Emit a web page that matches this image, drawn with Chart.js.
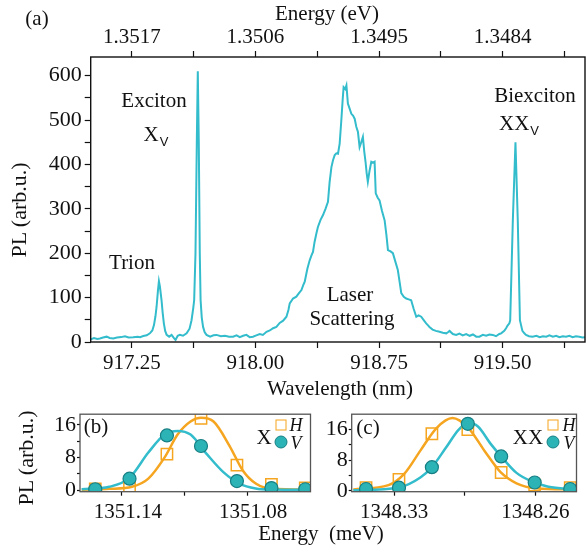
<!DOCTYPE html>
<html lang="en">
<head>
<meta charset="UTF-8">
<title>PL spectrum</title>
<script src="https://cdn.jsdelivr.net/npm/chart.js"></script>
<style>
  body { margin: 0; background: #fff; }
  #wrap { position: relative; width: 586px; height: 552px; overflow: hidden;
          font-family: "Liberation Serif", "Times New Roman", serif; color: #111; }
  canvas { position: absolute; }
  .lbl { position: absolute; transform: translate(-50%, -50%); line-height: 1;
         white-space: nowrap; font-size: 21px; }
  .rot { transform: translate(-50%, -50%) rotate(-90deg); font-size: 22px; }
  .sub { font-family: "Liberation Sans", Arial, sans-serif; font-size: 13px; position: relative; top: 5px; margin-left: 1px; }
  .it { font-style: italic; font-size: 18px; }
  .sq { position: absolute; width: 9px; height: 9px; border: 1.5px solid #f5a51f;
        transform: translate(-50%, -50%); }
  .dot { position: absolute; width: 11px; height: 11px; border-radius: 50%; background: #2bb3b5;
         border: 1.2px solid #177f84; transform: translate(-50%, -50%); }
</style>
</head>
<body>
<div id="wrap">
  <canvas id="mainChart" width="586" height="400" style="left:0;top:0"></canvas>
  <canvas id="xChart" width="320" height="152" style="left:0;top:400px"></canvas>
  <canvas id="xxChart" width="286" height="152" style="left:300px;top:400px"></canvas>

  <!-- panel (a) text -->
  <div class="lbl" style="left:37px;top:18px">(a)</div>
  <div class="lbl" style="left:327px;top:13px">Energy (eV)</div>
  <div class="lbl" style="left:340px;top:388px">Wavelength (nm)</div>
  <div class="lbl rot" style="left:19px;top:210px">PL (arb.u.)</div>
  <div class="lbl" style="left:154px;top:100px">Exciton</div>
  <div class="lbl" style="left:156px;top:134px">X<span class="sub">V</span></div>
  <div class="lbl" style="left:132px;top:262px">Trion</div>
  <div class="lbl" style="left:535px;top:95px">Biexciton</div>
  <div class="lbl" style="left:519px;top:123px">XX<span class="sub">V</span></div>
  <div class="lbl" style="left:350px;top:294px">Laser</div>
  <div class="lbl" style="left:352px;top:318px">Scattering</div>

  <!-- panels (b), (c) text -->
  <div class="lbl" style="left:96px;top:426px">(b)</div>
  <div class="lbl" style="left:368px;top:427px">(c)</div>
  <div class="lbl" style="left:264px;top:437px">X</div>
  <div class="sq" style="left:281px;top:425px"></div>
  <div class="dot" style="left:281px;top:442px"></div>
  <div class="lbl it" style="left:296px;top:425px">H</div>
  <div class="lbl it" style="left:296px;top:443px">V</div>
  <div class="lbl" style="left:528px;top:437px">XX</div>
  <div class="sq" style="left:553px;top:425px"></div>
  <div class="dot" style="left:553px;top:442px"></div>
  <div class="lbl it" style="left:569px;top:425px">H</div>
  <div class="lbl it" style="left:569px;top:443px">V</div>
  <div class="lbl rot" style="left:26px;top:458px">PL (arb.u.)</div>
  <div class="lbl" style="left:321px;top:533px">Energy&nbsp;&nbsp;(meV)</div>
</div>

<script>
// PL spectrum: wavelength (nm) and intensity (arb. u.)
const wavelength = [
  917.000, 917.020, 917.040, 917.056, 917.075, 917.097, 917.115, 917.137, 917.160, 917.185,
  917.208, 917.230, 917.258, 917.285, 917.300, 917.319, 917.340, 917.359, 917.374, 917.384,
  917.393, 917.400, 917.408, 917.414, 917.420, 917.430, 917.437, 917.444, 917.452, 917.461,
  917.476, 917.491, 917.503, 917.515, 917.528, 917.541, 917.560, 917.582, 917.600, 917.612,
  917.622, 917.628, 917.636, 917.644, 917.650, 917.656, 917.662, 917.667, 917.674, 917.682,
  917.692, 917.703, 917.725, 917.745, 917.764, 917.790, 917.815, 917.840, 917.864, 917.885,
  917.905, 917.925, 917.945, 917.965, 917.985, 918.005, 918.026, 918.045, 918.067, 918.087,
  918.107, 918.127, 918.147, 918.168, 918.188, 918.200, 918.208, 918.228, 918.248, 918.264,
  918.279, 918.290, 918.299, 918.315, 918.329, 918.340, 918.349, 918.359, 918.370, 918.379,
  918.395, 918.410, 918.425, 918.440, 918.450, 918.461, 918.471, 918.481, 918.491, 918.501,
  918.511, 918.521, 918.530, 918.535, 918.545, 918.552, 918.561, 918.572, 918.582, 918.592,
  918.602, 918.612, 918.622, 918.632, 918.642, 918.652, 918.660, 918.668, 918.675, 918.682,
  918.692, 918.703, 918.713, 918.723, 918.730, 918.742, 918.753, 918.768, 918.784, 918.795,
  918.804, 918.820, 918.834, 918.850, 918.864, 918.875, 918.885, 918.900, 918.915, 918.930,
  918.945, 918.960, 918.976, 918.990, 919.006, 919.020, 919.036, 919.046, 919.056, 919.075,
  919.095, 919.117, 919.137, 919.158, 919.168, 919.178, 919.198, 919.218, 919.238, 919.258,
  919.279, 919.300, 919.320, 919.340, 919.359, 919.380, 919.400, 919.420, 919.440, 919.460,
  919.480, 919.491, 919.510, 919.521, 919.530, 919.541, 919.546, 919.562, 919.578, 919.592,
  919.605, 919.620, 919.632, 919.642, 919.660, 919.682, 919.705, 919.725, 919.745, 919.765,
  919.784, 919.805, 919.825, 919.845, 919.865, 919.885, 919.905, 919.925, 919.945, 919.965,
  919.985, 920.000
];
const intensity = [
  6, 9, 7, 8, 10, 12, 9, 8, 10, 11,
  13, 10, 10.5, 12, 11, 13.5, 15, 19.5, 26, 38,
  58, 80, 115, 137, 125, 94, 65, 42, 25, 16,
  12, 16, 10, 4.5, 14, 16, 14, 19.5, 30, 49,
  75, 94, 200, 450, 610, 450, 200, 94, 55, 34,
  22, 16, 12, 15, 16, 13, 14, 12, 12, 15,
  11, 14, 16, 11, 12, 15, 18, 16, 23, 26,
  31, 34, 43, 48, 57, 72, 87, 98, 102, 110,
  117, 128, 136, 165, 184, 195, 203, 226, 245, 259,
  275, 286, 300, 316, 360, 394, 410, 421, 425, 424,
  447, 499, 550, 574, 570, 578, 537, 525, 514, 510,
  503, 485, 473, 439, 450, 462, 430, 406, 380, 361,
  385, 406, 404, 406, 335, 325, 319, 295, 274, 240,
  207, 204, 200, 180, 162, 135, 110, 102, 98, 96,
  94, 75, 57, 60, 57, 50, 42, 38, 34, 28,
  25, 23, 21, 19.5, 22, 25, 18, 16, 19, 15,
  18, 14, 17, 12, 12, 16, 14, 17, 16, 13,
  18, 19.5, 25, 31, 37, 42, 49, 274, 450, 274,
  49, 25, 19.5, 16, 13, 12, 14, 11, 13, 12,
  15, 12, 14, 11, 13, 12, 14, 11, 13, 12,
  10, 11
];

// axis ticks of panel (a); the top axis shares positions with the bottom one
const wlTicks = [917.25, 917.625, 918.0, 918.375, 918.75, 919.125, 919.5, 919.875];
const wlLabels = ['917.25', '', '918.00', '', '918.75', '', '919.50', ''];
const evLabels = ['1.3517', '', '1.3506', '', '1.3495', '', '1.3484', ''];
const plTicks = [0, 50, 100, 150, 200, 250, 300, 350, 400, 450, 500, 550, 600];
const plLabels = ['0', '', '100', '', '200', '', '300', '', '400', '', '500', '', '600'];

// panel (b): exciton, H and V polarisation
const xEnergy = [1351.1527, 1351.1363, 1351.1184, 1351.1021, 1351.0849, 1351.0684, 1351.0522];
const xH = [0.3, 1.0, 8.8, 17.6, 6.1, 1.4, 0.5];
const xV = [0.2, 2.8, 13.4, 10.8, 2.2, 0.5, 0.2];
const xFitE_H = [1351.1592, 1351.1460, 1351.1351, 1351.1273, 1351.1195, 1351.1133, 1351.1071,
                 1351.1021, 1351.0961, 1351.0884, 1351.0821, 1351.0759, 1351.0681, 1351.0497];
const xFitH = [0.1, 0.3, 0.8, 2.8, 8.0, 13.6, 16.8, 17.7, 16.8, 10.8, 4.8, 1.6, 0.3, 0.1];
const xFitE_V = [1351.1592, 1351.1460, 1351.1363, 1351.1273, 1351.1195, 1351.1133, 1351.1071,
                 1351.0993, 1351.0914, 1351.0837, 1351.0759, 1351.0681, 1351.0497];
const xFitV = [0.2, 0.8, 3.0, 9.2, 13.6, 14.5, 13.6, 8.8, 4.4, 1.6, 0.4, 0.15, 0.1];
const bTicks = [1351.14, 1351.11, 1351.08];
const bLabels = ['1351.14', '', '1351.08'];

// panel (c): biexciton, H and V polarisation
const xxEnergy = [1348.3439, 1348.3276, 1348.3113, 1348.2935, 1348.2770, 1348.2604, 1348.2428];
const xxH = [0.85, 3.0, 14.9, 16.0, 4.8, 1.5, 0.85];
const xxV = [0.5, 0.85, 6.2, 17.5, 9.0, 2.2, 0.5];
const xxFitE_H = [1348.3502, 1348.3328, 1348.3249, 1348.3170, 1348.3090, 1348.3011, 1348.2932,
                  1348.2853, 1348.2773, 1348.2694, 1348.2599, 1348.2409];
const xxFitH = [0.4, 1.5, 4.5, 10.5, 16.4, 19.0, 16.4, 10.5, 4.9, 2.0, 0.7, 0.4];
const xxFitE_V = [1348.3502, 1348.3280, 1348.3170, 1348.3113, 1348.3043, 1348.2980, 1348.2932,
                  1348.2885, 1348.2821, 1348.2770, 1348.2694, 1348.2615, 1348.2536, 1348.2409];
const xxFitV = [0.2, 0.85, 3.5, 6.2, 11.3, 16.0, 17.7, 16.8, 12.2, 9.0, 4.7, 2.4, 1.1, 0.4];
const cTicks = [1348.33, 1348.295, 1348.26];
const cLabels = ['1348.33', '', '1348.26'];
const yTicksSmall = [0, 4, 8, 12, 16];
const yLabelsSmall = ['0', '', '8', '', '16'];

const TEAL = '#33bccb';
const ORANGE = '#f5a51f';
const serif = 'Liberation Serif';

const pairs = (xs, ys) => xs.map((x, i) => ({ x: x, y: ys[i] }));

// box around the plot area
const framePlugin = {
  id: 'frame',
  afterDraw(chart, args, opts) {
    const a = chart.chartArea, ctx = chart.ctx;
    ctx.save();
    ctx.strokeStyle = opts.color || '#111';
    ctx.lineWidth = opts.width || 1.3;
    ctx.strokeRect(a.left, a.top, a.right - a.left, a.bottom - a.top);
    ctx.restore();
  }
};

function axis(vals, labels, extra, fontSize, tickLen, pad) {
  return Object.assign({
    type: 'linear',
    afterBuildTicks: s => { s.ticks = vals.map(v => ({ value: v })); },
    ticks: {
      callback: (v, i) => labels[i],
      autoSkip: false, maxRotation: 0, minRotation: 0,
      color: '#111', padding: pad,
      font: { family: serif, size: fontSize }
    },
    grid: { drawOnChartArea: false, drawTicks: true, tickLength: tickLen, tickColor: '#111', tickWidth: 1.2 },
    border: { display: false }
  }, extra);
}

const baseOpts = {
  responsive: false,
  animation: false,
  events: [],
  plugins: { legend: { display: false }, tooltip: { enabled: false } }
};

// panel (a): full spectrum
new Chart(document.getElementById('mainChart'), {
  type: 'line',
  data: {
    datasets: [{
      data: pairs(wavelength, intensity),
      borderColor: TEAL, borderWidth: 2, pointRadius: 0, tension: 0, fill: false
    }]
  },
  options: Object.assign({}, baseOpts, {
    layout: { padding: { left: 0, right: 1, top: 0, bottom: 0 } },
    plugins: Object.assign({}, baseOpts.plugins, { frame: { color: '#111', width: 1.4 } }),
    scales: {
      x: axis(wlTicks, wlLabels, { position: 'bottom', min: 917, max: 920,
        afterFit: s => { s.height = 58; } }, 21, 6, 3),
      xTop: axis(wlTicks, evLabels, { position: 'top', min: 917, max: 920,
        afterFit: s => { s.height = 57; } }, 21, 6, 1),
      y: axis(plTicks, plLabels, { position: 'left', min: 0, max: 642,
        afterFit: s => { s.width = 90.7; } }, 22, 6, 3)
    }
  }),
  plugins: [framePlugin]
});

function smallPanel(id, E, H, V, fitEH, fitH, fitEV, fitV, xr, yr, ticks, labels, yw, padR, lblOffset) {
  return new Chart(document.getElementById(id), {
    type: 'line',
    data: {
      datasets: [
        { data: pairs(E, V), showLine: false, pointStyle: 'circle', pointRadius: 6.5,
          pointBackgroundColor: '#2bb3b5', pointBorderColor: '#177f84', pointBorderWidth: 1.2, order: 0 },
        { data: pairs(E, H), showLine: false, pointStyle: 'rect', pointRadius: 8,
          pointBackgroundColor: 'rgba(255,255,255,0)', pointBorderColor: ORANGE, pointBorderWidth: 1.5, order: 1 },
        { data: pairs(fitEV, fitV), borderColor: TEAL, borderWidth: 2.5, pointRadius: 0,
          cubicInterpolationMode: 'monotone', order: 2 },
        { data: pairs(fitEH, fitH), borderColor: ORANGE, borderWidth: 2.5, pointRadius: 0,
          cubicInterpolationMode: 'monotone', order: 3 }
      ]
    },
    options: Object.assign({}, baseOpts, {
      layout: { padding: { left: 0, right: padR, top: 12.5, bottom: 0 } },
      plugins: Object.assign({}, baseOpts.plugins, { frame: { color: '#555', width: 1.3 } }),
      scales: {
        x: axis(ticks, labels, { position: 'bottom', reverse: true, min: xr[0], max: xr[1],
          afterFit: s => { s.height = 60.3; } }, 21, 4, 4),
        y: axis(yTicksSmall, yLabelsSmall, { position: 'left', min: yr[0], max: yr[1],
          afterFit: s => { s.width = yw; } }, 22, 3, 1)
      }
    }),
    plugins: [framePlugin]
  });
}

const bChart = smallPanel('xChart', xEnergy, xH, xV, xFitE_H, xFitH, xFitE_V, xFitV,
  [1351.0497, 1351.160], [-0.4, 18.6], bTicks, bLabels, 80, 3.3);
bChart.options.scales.x.ticks.labelOffset = 6;
bChart.update();

smallPanel('xxChart', xxEnergy, xxH, xxV, xxFitE_H, xxFitH, xxFitE_V, xxFitV,
  [1348.2397, 1348.351], [-0.2, 20], cTicks, cLabels, 51.7, 1);
</script>
</body>
</html>
